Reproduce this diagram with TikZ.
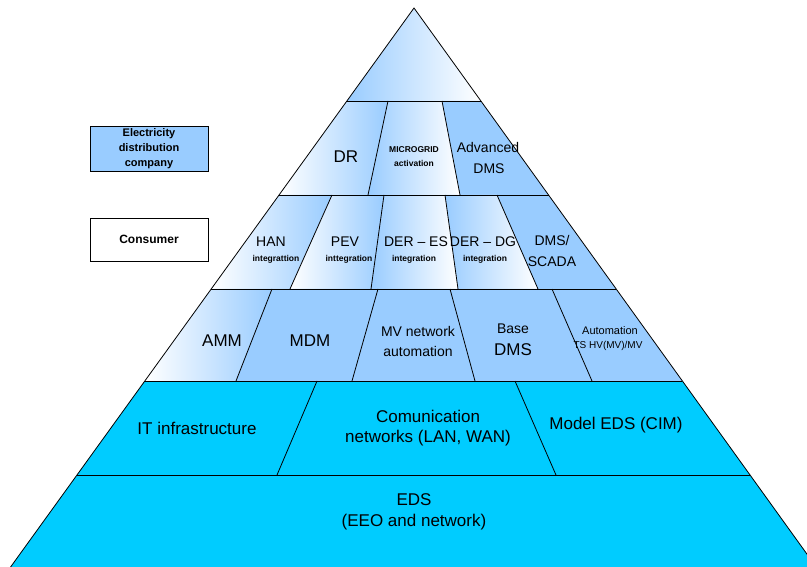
\documentclass[tikz,border=0pt]{standalone}
\usepackage{fontspec}
\setmainfont{Liberation Sans}
\definecolor{lblue}{HTML}{99CCFF}
\definecolor{cyanb}{HTML}{00CCFF}
\tikzset{
  solidcell/.style={fill=lblue},
  gradlr/.style={left color=white, right color=lblue},
  gradrl/.style={left color=lblue, right color=white},
  basecell/.style={fill=cyanb},
  edgeline/.style={draw=black, line width=0.8pt},
  lbl/.style={inner sep=0pt, align=center, text=black},
  fbig/.style={lbl, font=\fontsize{17}{20}\selectfont},
  fmid/.style={lbl, font=\fontsize{14}{17}\selectfont},
  fsmall/.style={lbl, font=\fontsize{14}{16}\selectfont},
  ftiny/.style={lbl, font=\bfseries\fontsize{8.5}{10}\selectfont},
  legendbox/.style={draw=black, line width=0.8pt, minimum width=118pt, minimum height=45pt, inner sep=0pt, align=center, font=\bfseries\fontsize{11}{15}\selectfont},
}
\begin{document}
\begin{tikzpicture}[x=1pt,y=-1pt]
\useasboundingbox (0,0) rectangle (807,567);
\begin{scope}
\clip (0,0) rectangle (807,567);
% outline coordinates
\coordinate (apex) at (414,8);
\coordinate (a1L) at (346.9,101); \coordinate (a1R) at (480.9,101);
\coordinate (a2L) at (279.1,195); \coordinate (a2R) at (548.5,195);
\coordinate (a3L) at (211.2,289); \coordinate (a3R) at (616.2,289);
\coordinate (a4L) at (144.8,381); \coordinate (a4R) at (682.4,381);
\coordinate (a5L) at (77,475);    \coordinate (a5R) at (750,475);
\coordinate (a6L) at (1.2,580);   \coordinate (a6R) at (825.6,580);
% dividers
\coordinate (d21t) at (388,101); \coordinate (d21b) at (368,195);
\coordinate (d22t) at (442,101); \coordinate (d22b) at (460,195);
\coordinate (d31t) at (332,195); \coordinate (d31b) at (290,289);
\coordinate (d32t) at (384,195); \coordinate (d32b) at (371,289);
\coordinate (d33t) at (445,195); \coordinate (d33b) at (458,289);
\coordinate (d34t) at (497,195); \coordinate (d34b) at (538,289);
\coordinate (d41t) at (272,289); \coordinate (d41b) at (236,381);
\coordinate (d42t) at (378,289); \coordinate (d42b) at (352,381);
\coordinate (d43t) at (450,289); \coordinate (d43b) at (475,381);
\coordinate (d44t) at (552,289); \coordinate (d44b) at (592,381);
\coordinate (d51t) at (317,381); \coordinate (d51b) at (277,475);
\coordinate (d52t) at (515,381); \coordinate (d52b) at (556,475);
% fills
\path[gradrl] (apex) -- (a1R) -- (a1L) -- cycle;
\path[gradlr] (a1L) -- (d21t) -- (d21b) -- (a2L) -- cycle;
\path[gradrl] (d21t) -- (d22t) -- (d22b) -- (d21b) -- cycle;
\path[solidcell] (d22t) -- (a1R) -- (a2R) -- (d22b) -- cycle;
\path[gradlr] (a2L) -- (d31t) -- (d31b) -- (a3L) -- cycle;
\path[gradlr] (d31t) -- (d32t) -- (d32b) -- (d31b) -- cycle;
\path[gradrl] (d32t) -- (d33t) -- (d33b) -- (d32b) -- cycle;
\path[gradrl] (d33t) -- (d34t) -- (d34b) -- (d33b) -- cycle;
\path[solidcell] (d34t) -- (a2R) -- (a3R) -- (d34b) -- cycle;
\path[gradlr] (a3L) -- (d41t) -- (d41b) -- (a4L) -- cycle;
\path[solidcell] (d41t) -- (a3R) -- (a4R) -- (d41b) -- cycle;
\path[basecell] (a4L) -- (a4R) -- (a6R) -- (a6L) -- cycle;
% lines
\draw[edgeline] (a6L) -- (apex) -- (a6R);
\draw[edgeline] (a1L) -- (a1R);
\draw[edgeline] (a2L) -- (a2R);
\draw[edgeline] (a3L) -- (a3R);
\draw[edgeline] (a4L) -- (a4R);
\draw[edgeline] (a5L) -- (a5R);
\draw[edgeline] (d21t) -- (d21b) (d22t) -- (d22b);
\draw[edgeline] (d31t) -- (d31b) (d32t) -- (d32b) (d33t) -- (d33b) (d34t) -- (d34b);
\draw[edgeline] (d41t) -- (d41b) (d42t) -- (d42b) (d43t) -- (d43b) (d44t) -- (d44b);
\draw[edgeline] (d51t) -- (d51b) (d52t) -- (d52b);
\end{scope}
% labels row 2
\node[fbig] (dr) at (346,157) {DR};
\node[ftiny] (micro) at (414,150) {MICROGRID};
\node[ftiny] (activ) at (414,163) {activation};
\node[fmid] (adv) at (488,147) {Advanced};
\node[fmid] (advdms) at (489,169) {DMS};
% row 3
\node[fsmall] (han) at (271,242) {HAN};
\node[ftiny] (hani) at (276,259) {integrattion};
\node[fsmall] (pev) at (345,242) {PEV};
\node[ftiny] (pevi) at (349,259) {inttegration};
\node[fsmall] (deres) at (416,242) {DER -- ES};
\node[ftiny] (deresi) at (414,259) {integration};
\node[fsmall] (derdg) at (483,242) {DER -- DG};
\node[ftiny] (derdgi) at (485,259) {integration};
\node[fsmall] (dms1) at (552,240) {DMS/};
\node[fsmall] (scada) at (552,262) {SCADA};
% row 4
\node[fbig] (amm) at (222,341) {AMM};
\node[fbig] (mdm) at (310,341) {MDM};
\node[fmid] (mvn) at (418,331) {MV network};
\node[fmid] (mva) at (418,351) {automation};
\node[fmid] (base) at (513,329) {Base};
\node[fbig] (basedms) at (513,350) {DMS};
\node[lbl, font=\fontsize{11}{13}\selectfont] (autom) at (610,331) {Automation};
\node[lbl, font=\fontsize{10}{12}\selectfont] (ts) at (608,346) {TS HV(MV)/MV};
% row 5
\node[fbig] (it) at (197,428) {IT infrastructure};
\node[fbig] (com1) at (428,416) {Comunication};
\node[fbig] (com2) at (428,438) {networks (LAN, WAN)};
\node[fbig] (model) at (616,425) {Model EDS (CIM)};
% row 6
\node[fbig] (eds) at (414,500) {EDS};
\node[fbig] (eeo) at (414,522) {(EEO and network)};
% legend
\node[legendbox, fill=lblue] (company) at (149,148.5) {Electricity\\distribution\\company};
\node[legendbox, fill=white, minimum height=43pt, font=\bfseries\fontsize{12}{14}\selectfont] (consumer) at (149,239.5) {Consumer};
\end{tikzpicture}
\end{document}
